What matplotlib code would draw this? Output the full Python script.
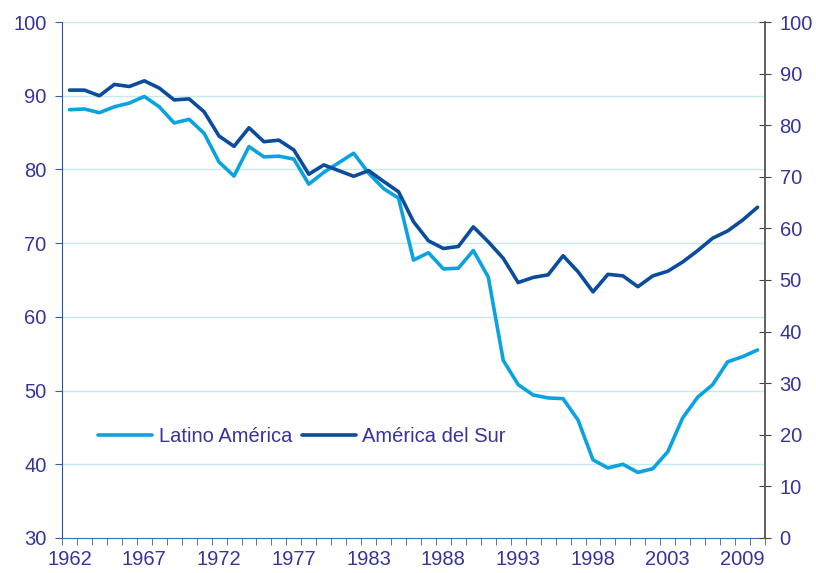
import matplotlib.pyplot as plt

plt.rcParams['font.family'] = ['Liberation Sans', 'DejaVu Sans']

# categories (47 points), labels shown every 5th category
n_points = 47
tick_pos = [0, 5, 10, 15, 20, 25, 30, 35, 40, 45]
tick_labels = ['1962', '1967', '1972', '1977', '1983', '1988', '1993', '1998', '2003', '2009']

# Latino America (left axis)
latino = [88.1, 88.2, 87.7, 88.5, 89.0, 89.9, 88.5, 86.3, 86.8, 84.9,
          81.0, 79.1, 83.1, 81.7, 81.8, 81.4, 78.0, 79.6, 80.9, 82.2,
          79.5, 77.4, 76.1, 67.7, 68.7, 66.5, 66.6, 69.0, 65.4, 54.1,
          50.8, 49.4, 49.0, 48.9, 46.0, 40.6, 39.5, 40.0, 38.9, 39.4,
          41.7, 46.3, 49.1, 50.8, 53.9, 54.6, 55.5]

# America del Sur (right axis)
sur = [86.8, 86.8, 85.7, 87.9, 87.5, 88.6, 87.2, 84.9, 85.1, 82.6,
       77.9, 75.9, 79.5, 76.8, 77.1, 75.2, 70.5, 72.3, 71.2, 70.1,
       71.2, 69.1, 67.1, 61.3, 57.6, 56.1, 56.5, 60.3, 57.4, 54.2,
       49.5, 50.5, 51.0, 54.7, 51.6, 47.7, 51.1, 50.8, 48.7, 50.8,
       51.7, 53.5, 55.7, 58.1, 59.5, 61.6, 64.1]

light = '#0AA3E0'
dark = '#0B4C9C'
txt = '#35359A'
grid_c = '#C5E8F3'
fs = 14.5

fig = plt.figure(figsize=(8.16, 5.73), dpi=100)
ax = fig.add_axes([0.076, 0.0611, 0.8615, 0.9005])
ax2 = ax.twinx()

x = list(range(n_points))
l1, = ax.plot(x, latino, color=light, lw=2.6, label='Latino América', solid_capstyle='round')
l2, = ax2.plot(x, sur, color=dark, lw=2.6, label='América del Sur', solid_capstyle='round')

ax.set_xlim(-0.5, n_points - 0.5)
ax.set_ylim(30, 100)
ax2.set_ylim(0, 100)

ax.set_yticks(range(30, 101, 10))
ax2.set_yticks(range(0, 101, 10))
for v in range(40, 101, 10):
    ax.axhline(v, color=grid_c, lw=1.0, zorder=0)

ax.set_xticks(tick_pos)
ax.set_xticklabels(tick_labels)
ax.set_xticks([i - 0.5 for i in range(n_points + 1)], minor=True)
ax.tick_params(axis='x', which='major', length=0, pad=9, labelsize=fs, labelcolor=txt)
ax.tick_params(axis='x', which='minor', length=5, color='#2E5FAE', direction='out')
ax.tick_params(axis='y', length=5, color='#2E5FAE', labelsize=fs, labelcolor=txt, pad=6)
ax2.tick_params(axis='y', length=9, direction='inout', color='#444444', labelsize=fs,
                labelcolor=txt, pad=6)

for s in ['top', 'right']:
    ax.spines[s].set_visible(False)
ax.spines['left'].set_color('#1F56B0')
ax.spines['bottom'].set_color('#2E6FC0')
ax2.spines['top'].set_visible(False)
ax2.spines['left'].set_visible(False)
ax2.spines['bottom'].set_visible(False)
ax2.spines['right'].set_color('#555555')
ax2.spines['right'].set_linewidth(1.3)

leg = ax2.legend(handles=[l1, l2], loc='center left', bbox_to_anchor=(0.037, 0.196),
                 ncol=2, frameon=False, fontsize=fs, handlelength=2.7,
                 handletextpad=0.3, columnspacing=0.5, borderpad=0)
for t in leg.get_texts():
    t.set_color(txt)

fig.savefig('out.png', dpi=100)
